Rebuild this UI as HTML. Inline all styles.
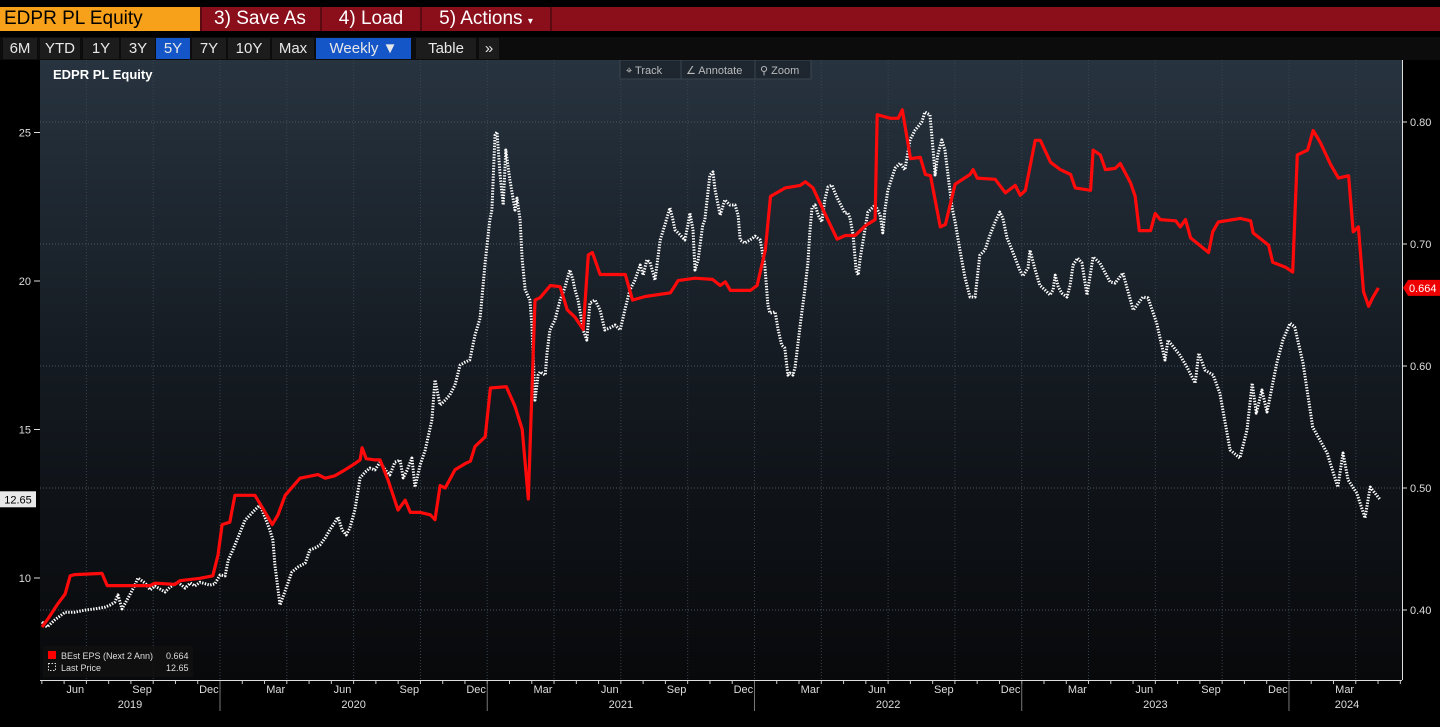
<!DOCTYPE html>
<html><head><meta charset="utf-8">
<style>
html,body{margin:0;padding:0;background:#000;width:1440px;height:727px;overflow:hidden;font-family:"Liberation Sans",sans-serif;}
.bar{position:absolute;left:0;top:7px;width:1440px;height:24px;background:#8a0f1b;}
.bar div{position:absolute;top:0;height:24px;line-height:24px;color:#fff;font-size:19px;border-right:2px solid #5a0a10;}
.row2{position:absolute;left:0;top:37px;width:1440px;height:23px;background:#0c0c0c;}
.row2 div{position:absolute;top:1px;height:21px;line-height:21px;color:#e8e8e8;font-size:15px;text-align:center;background:#1c1c1c;}
</style></head>
<body>
<div class="bar">
  <div style="left:0;width:196px;background:#f7a11a;color:#000;padding-left:4px;">EDPR PL Equity</div>
  <div style="left:200px;width:120px;text-align:center;">3) Save As</div>
  <div style="left:322px;width:98px;text-align:center;">4) Load</div>
  <div style="left:422px;width:128px;text-align:center;">5) Actions <span style="font-size:10px">▾</span></div>
</div>
<div class="row2">
  <div style="left:3px;width:34px">6M</div>
  <div style="left:40px;width:40px">YTD</div>
  <div style="left:83px;width:36px">1Y</div>
  <div style="left:121px;width:34px">3Y</div>
  <div style="left:156px;width:34px;background:#1456c8">5Y</div>
  <div style="left:192px;width:34px">7Y</div>
  <div style="left:228px;width:42px">10Y</div>
  <div style="left:272px;width:42px">Max</div>
  <div style="left:316px;width:95px;background:#1456c8">Weekly ▼</div>
  <div style="left:416px;width:60px">Table</div>
  <div style="left:479px;width:20px">»</div>
</div>
<svg id="chart" width="1440" height="667" style="position:absolute;left:0;top:60px" viewBox="0 60 1440 667">
  <defs><linearGradient id="bg" x1="0" y1="0" x2="0" y2="1"><stop offset="0" stop-color="#27333f"/><stop offset="0.5" stop-color="#141a21"/><stop offset="1" stop-color="#08090b"/></linearGradient></defs>
  <rect x="40" y="60" width="1362" height="620" fill="url(#bg)"/>
  <line x1="1402.5" y1="60" x2="1402.5" y2="680" stroke="#ddd" stroke-width="1"/>
  <line x1="40" y1="680.5" x2="1402" y2="680.5" stroke="#ddd" stroke-width="1"/>
  <g id="grid"></g><g id="axes"></g><g id="series"></g>
  <text x="53" y="79" fill="#fff" font-size="13" font-weight="bold">EDPR PL Equity</text>
  <g>
    <rect x="620" y="60" width="191" height="19" fill="#1e2730" stroke="#3a4550"/>
    <text x="626" y="74" fill="#bbb" font-size="11">⌖ Track</text>
    <line x1="681" y1="60" x2="681" y2="79" stroke="#3a4550"/>
    <text x="686" y="74" fill="#bbb" font-size="11">∠ Annotate</text>
    <line x1="755" y1="60" x2="755" y2="79" stroke="#3a4550"/>
    <text x="760" y="74" fill="#bbb" font-size="11">⚲ Zoom</text>
  </g>
  <g>
    <rect x="43" y="646" width="150" height="31" fill="#111" opacity="0.85"/>
    <rect x="48" y="651" width="8" height="8" fill="#f00"/>
    <text x="61" y="659" fill="#ddd" font-size="9">BEst EPS (Next 2 Ann)</text>
    <text x="166" y="659" fill="#ddd" font-size="9">0.664</text>
    <rect x="48.5" y="663.5" width="7" height="7" fill="none" stroke="#ddd" stroke-dasharray="1.5 1.5"/>
    <text x="61" y="671" fill="#ddd" font-size="9">Last Price</text>
    <text x="166" y="671" fill="#ddd" font-size="9">12.65</text>
  </g>
</svg>
<script>
const epsWeeks=[0,1.2,2.9,4.5,5.5,6.4,11.7,12.7,19.1,21.1,22.0,25.9,26.9,30.8,33.3,34.3,35.1,36.6,37.6,41.5,43.5,44.9,46.0,47.4,50.3,53.8,55.2,57.1,59.1,61.0,62.0,62.4,63.2,64.9,65.9,67.5,69.4,70.8,71.8,73.7,75.7,76.6,77.6,78.6,80.5,82.5,83.5,84.4,86.4,87.4,90.5,92.2,93.6,94.8,96.1,97.1,99.1,101.0,102.4,103.9,105.5,106.5,107.3,108.8,113.7,115.1,117.6,122.5,124.0,127.3,130.7,132.2,133.2,134.2,138.1,139.4,141.0,142.0,144.9,147.8,148.8,150.3,152.7,155.0,156.6,158.5,160.5,162.4,162.8,165.4,166.9,167.7,169.3,171.2,172.2,173.2,175.1,176.1,178.0,180.9,181.5,182.3,185.8,187.8,189.7,190.7,191.7,193.6,194.6,196.6,198.5,200.5,201.4,204.4,204.9,206.3,207.3,209.2,210.2,212.2,213.1,213.9,216.1,217.0,218.0,221.0,221.9,222.9,223.9,227.4,228.2,229.3,233.6,235.6,236.1,237.9,239.1,239.9,242.4,243.8,244.7,246.7,247.8,249.2,251.2,252.7,254.7,255.6,256.6,257.6,258.6,259.4,260.5];
const epsValues=[0.386,0.393,0.404,0.413,0.428,0.429,0.430,0.420,0.420,0.420,0.422,0.421,0.424,0.426,0.428,0.445,0.470,0.472,0.494,0.494,0.480,0.470,0.478,0.494,0.508,0.511,0.508,0.510,0.515,0.520,0.523,0.533,0.524,0.523,0.523,0.506,0.482,0.490,0.480,0.480,0.478,0.474,0.502,0.500,0.515,0.520,0.522,0.534,0.542,0.582,0.583,0.567,0.548,0.491,0.654,0.656,0.666,0.665,0.646,0.640,0.630,0.691,0.693,0.675,0.675,0.654,0.657,0.660,0.670,0.672,0.671,0.666,0.669,0.662,0.662,0.666,0.695,0.739,0.746,0.748,0.751,0.746,0.724,0.704,0.707,0.707,0.715,0.720,0.806,0.803,0.803,0.810,0.770,0.771,0.757,0.756,0.714,0.716,0.749,0.757,0.761,0.754,0.753,0.742,0.748,0.740,0.744,0.785,0.785,0.767,0.761,0.757,0.746,0.744,0.777,0.773,0.761,0.762,0.766,0.750,0.739,0.711,0.711,0.725,0.720,0.719,0.714,0.720,0.705,0.693,0.710,0.718,0.721,0.719,0.709,0.703,0.699,0.685,0.681,0.677,0.773,0.777,0.793,0.783,0.765,0.754,0.756,0.710,0.714,0.661,0.649,0.656,0.664];
const priceWeeks=[0,1.0,2.5,4.5,6.4,8.4,10.3,12.3,13.3,14.2,14.8,15.6,16.8,18.1,18.7,20.1,21.1,22.0,23.0,24.0,25.0,26.5,27.9,28.9,29.8,30.8,32.7,33.7,34.7,35.7,36.3,37.2,39.6,41.5,42.5,43.5,44.4,45.0,45.4,46.4,47.8,48.7,49.9,51.3,52.2,53.2,54.2,55.2,56.1,57.1,57.7,58.5,59.3,60.0,61.0,62.0,63.0,63.9,64.9,65.9,66.9,67.8,68.8,69.8,70.4,71.2,72.1,72.7,73.7,74.7,76.0,76.6,77.6,78.6,79.5,80.5,81.5,82.5,83.4,84.4,85.4,86.4,87.3,87.7,88.3,88.7,89.3,89.9,90.4,91.2,92.2,92.6,93.2,93.6,94.2,95.1,95.5,96.1,96.7,97.1,98.1,98.4,99.0,100.0,101.0,101.9,102.9,103.5,103.9,104.5,105.5,106.2,106.8,107.8,108.8,109.7,110.7,111.7,112.7,113.6,114.6,115.6,116.6,117.2,117.9,118.5,119.5,120.5,121.4,122.4,123.0,123.4,124.4,125.3,125.9,126.3,126.9,127.3,127.9,128.8,129.2,130.2,130.8,131.2,132.2,133.1,134.1,135.1,135.7,136.1,137.0,138.0,139.0,140.0,140.9,141.5,141.9,142.9,143.5,144.2,144.8,145.4,145.8,146.4,146.8,147.8,148.7,149.3,149.7,150.1,150.7,151.3,152.0,152.6,153.2,154.0,154.6,155.2,156.0,156.5,157.1,157.5,158.1,158.7,159.1,159.5,160.4,161.0,162.4,163.4,163.9,164.3,164.9,166.3,167.3,168.2,169.2,170.2,171.5,172.1,173.1,173.7,174.1,174.6,175.4,176.0,176.6,177.4,178.0,179.0,179.9,180.9,181.9,182.8,183.8,184.8,185.8,186.7,187.3,188.1,188.7,189.7,190.6,191.2,192.2,192.6,193.6,194.5,195.5,196.5,197.1,197.5,198.1,198.8,199.8,200.4,201.0,201.9,202.7,203.7,204.9,206.2,208.2,209.2,210.7,212.7,214.6,215.6,217.3,218.9,219.5,221.8,223.2,224.8,225.5,226.7,228.3,229.6,231.6,233.5,234.9,235.9,236.7,237.8,238.8,240.7,241.9,243.3,244.2,245.8,247.7,250.5,252.6,253.6,254.6,256.3,257.9,258.9,260.8];
const priceValues=[8.52,8.35,8.59,8.85,8.85,8.92,8.96,9.02,9.09,9.19,9.43,8.96,9.33,9.76,10.00,9.83,9.60,9.73,9.63,9.53,9.70,9.86,9.66,9.83,9.73,9.86,9.76,9.80,10.10,10.07,10.60,10.94,11.95,12.29,12.46,12.02,11.62,11.28,10.44,9.09,9.76,10.20,10.37,10.50,10.94,11.01,11.11,11.35,11.62,11.88,12.05,11.62,11.45,11.68,12.29,13.37,13.57,13.70,13.64,13.90,13.64,13.47,13.90,13.97,13.37,13.64,14.04,13.06,13.80,14.31,15.32,16.67,15.82,15.99,16.16,16.50,17.17,17.27,17.34,18.18,18.75,20.64,22.05,22.39,24.91,25.02,23.57,22.56,24.41,23.40,22.39,22.79,22.05,20.71,19.70,19.36,18.52,15.99,16.83,16.94,16.83,17.51,18.35,18.69,19.36,19.76,20.37,20.03,19.70,19.36,18.35,18.01,19.26,19.36,19.02,18.35,18.42,18.52,18.35,19.02,19.70,20.03,20.54,20.20,20.71,20.64,20.03,21.38,21.88,22.46,22.05,21.72,21.55,21.38,21.88,22.29,21.72,20.37,20.71,21.88,22.05,23.57,23.67,23.06,22.22,22.73,22.56,22.56,22.22,21.38,21.28,21.38,21.51,21.38,20.54,19.19,18.92,18.96,18.35,17.84,17.74,16.83,16.90,16.83,17.10,18.52,19.70,20.61,21.72,22.46,22.56,22.22,21.99,22.73,23.16,23.23,22.96,22.73,22.46,22.29,22.29,22.12,21.55,20.37,20.20,20.77,21.72,22.32,22.56,22.22,21.62,22.39,23.06,23.80,23.97,23.74,24.75,25.08,25.35,25.69,25.59,24.41,23.57,24.24,24.75,24.41,23.57,22.46,21.99,20.97,20.13,19.46,19.46,20.87,21.04,21.55,21.99,22.32,22.12,21.45,21.21,20.77,20.37,20.17,20.44,21.04,20.37,19.86,19.70,19.53,19.70,20.20,19.80,19.59,19.46,19.86,20.54,20.77,20.61,19.53,20.81,20.61,19.97,19.93,20.27,19.02,19.46,19.43,18.58,17.34,18.01,17.51,17.10,16.56,17.57,17.00,16.83,16.23,14.31,14.04,14.98,16.56,15.55,16.33,15.59,17.24,18.01,18.58,18.45,17.24,15.08,14.21,13.06,14.21,13.30,12.86,12.02,13.06,12.65];
const leftTicks=[10,15,20,25];
const rightTicks=[0.40,0.50,0.60,0.70,0.80];
const monthLabels=["Jun","Sep","Dec","Mar","Jun","Sep","Dec","Mar","Jun","Sep","Dec","Mar","Jun","Sep","Dec","Mar","Jun","Sep","Dec","Mar"];
const yearLabels=["2019","2020","2021","2022","2023","2024"];

const NS="http://www.w3.org/2000/svg";
const xW=w=>42+w*5.13;            // weeks since start
const xM=m=>220+m*22.27;          // months since Jan 2020
const yL=v=>578-(v-10)*29.7;
const yR=v=>488-(v-0.5)*1220;
function mk(tag,attrs,parent){const e=document.createElementNS(NS,tag);for(const k in attrs)e.setAttribute(k,attrs[k]);parent.appendChild(e);return e;}
const grid=document.getElementById('grid'),axes=document.getElementById('axes'),series=document.getElementById('series');

rightTicks.forEach(v=>{
  const l=mk('line',{x1:40,x2:1402,y1:yR(v),y2:yR(v),stroke:'#4a5560','stroke-dasharray':'1 2'},grid);
  
  
  mk('line',{x1:1402,x2:1407,y1:yR(v),y2:yR(v),stroke:'#ddd'},axes);
  const t=mk('text',{x:1410,y:yR(v)+4,fill:'#ddd','font-size':11},axes);
  t.textContent=v.toFixed(2);
  
  
});
leftTicks.forEach(v=>{
  mk('line',{x1:34,x2:40,y1:yL(v),y2:yL(v),stroke:'#ddd'},axes);
  const t=mk('text',{x:31,y:yL(v)+4,fill:'#ddd','font-size':11,'text-anchor':'end'},axes);
  t.textContent=v;
  
  
});
for(let q=-2;q<=17;q++){
  const x=xM(q*3);
  if(x>40&&x<1402){
    const g=mk('line',{x1:x,x2:x,y1:60,y2:680,stroke:'#3a4550','stroke-dasharray':'1 2'},grid);
    
    
  }
}
for(let m=-8;m<=53;m++){const x=xM(m);if(x>40&&x<1402)mk('line',{x1:x,x2:x,y1:681,y2:684,stroke:'#ccc'},axes);}
monthLabels.forEach((s,i)=>{
  const x=xM(-7+i*3+0.5);
  const t=mk('text',{x:x,y:693,fill:'#ddd','font-size':11,'text-anchor':'middle'},axes);
  t.textContent=s;
  
  
});
yearLabels.forEach((s,i)=>{
  const a=Math.max(40,xM((i-1)*12)),b=Math.min(1402,xM(i*12));
  if(i>0)mk('line',{x1:a,x2:a,y1:681,y2:711,stroke:'#777'},axes);
  const t=mk('text',{x:i===5?1347:(a+b)/2,y:708,fill:'#ddd','font-size':11,'text-anchor':'middle'},axes);
  t.textContent=s;
  
  
});

const pp=priceWeeks.map((w,i)=>xW(w).toFixed(1)+','+yL(priceValues[i]).toFixed(1)).join(' ');
const pl=mk('polyline',{points:pp,fill:'none',stroke:'#fff','stroke-width':3,'stroke-dasharray':'1.4 1.4','stroke-linejoin':'round'},series);


const ep=epsWeeks.map((w,i)=>xW(w).toFixed(1)+','+yR(epsValues[i]).toFixed(1)).join(' ');
const el=mk('polyline',{points:ep,fill:'none',stroke:'#ff0a0a','stroke-width':3.2,'stroke-linejoin':'round'},series);



// last value tags
const lastP=priceValues[priceValues.length-1],lastE=epsValues[epsValues.length-1];
const pb=mk('rect',{x:0,y:yL(lastP)-8,width:36,height:16,fill:'#e8e8e8'},axes);


const pt=mk('text',{x:18,y:yL(lastP)+4,fill:'#000','font-size':11,'text-anchor':'middle'},axes);
pt.textContent=lastP.toFixed(2);
const eb=mk('polygon',{points:`1403,${yR(lastE)} 1408,${yR(lastE)-8} 1440,${yR(lastE)-8} 1440,${yR(lastE)+8} 1408,${yR(lastE)+8}`,fill:'#e00'},axes);


const et=mk('text',{x:1409,y:yR(lastE)+4,fill:'#fff','font-size':11},axes);
et.textContent=lastE.toFixed(3);
</script>
</body></html>
